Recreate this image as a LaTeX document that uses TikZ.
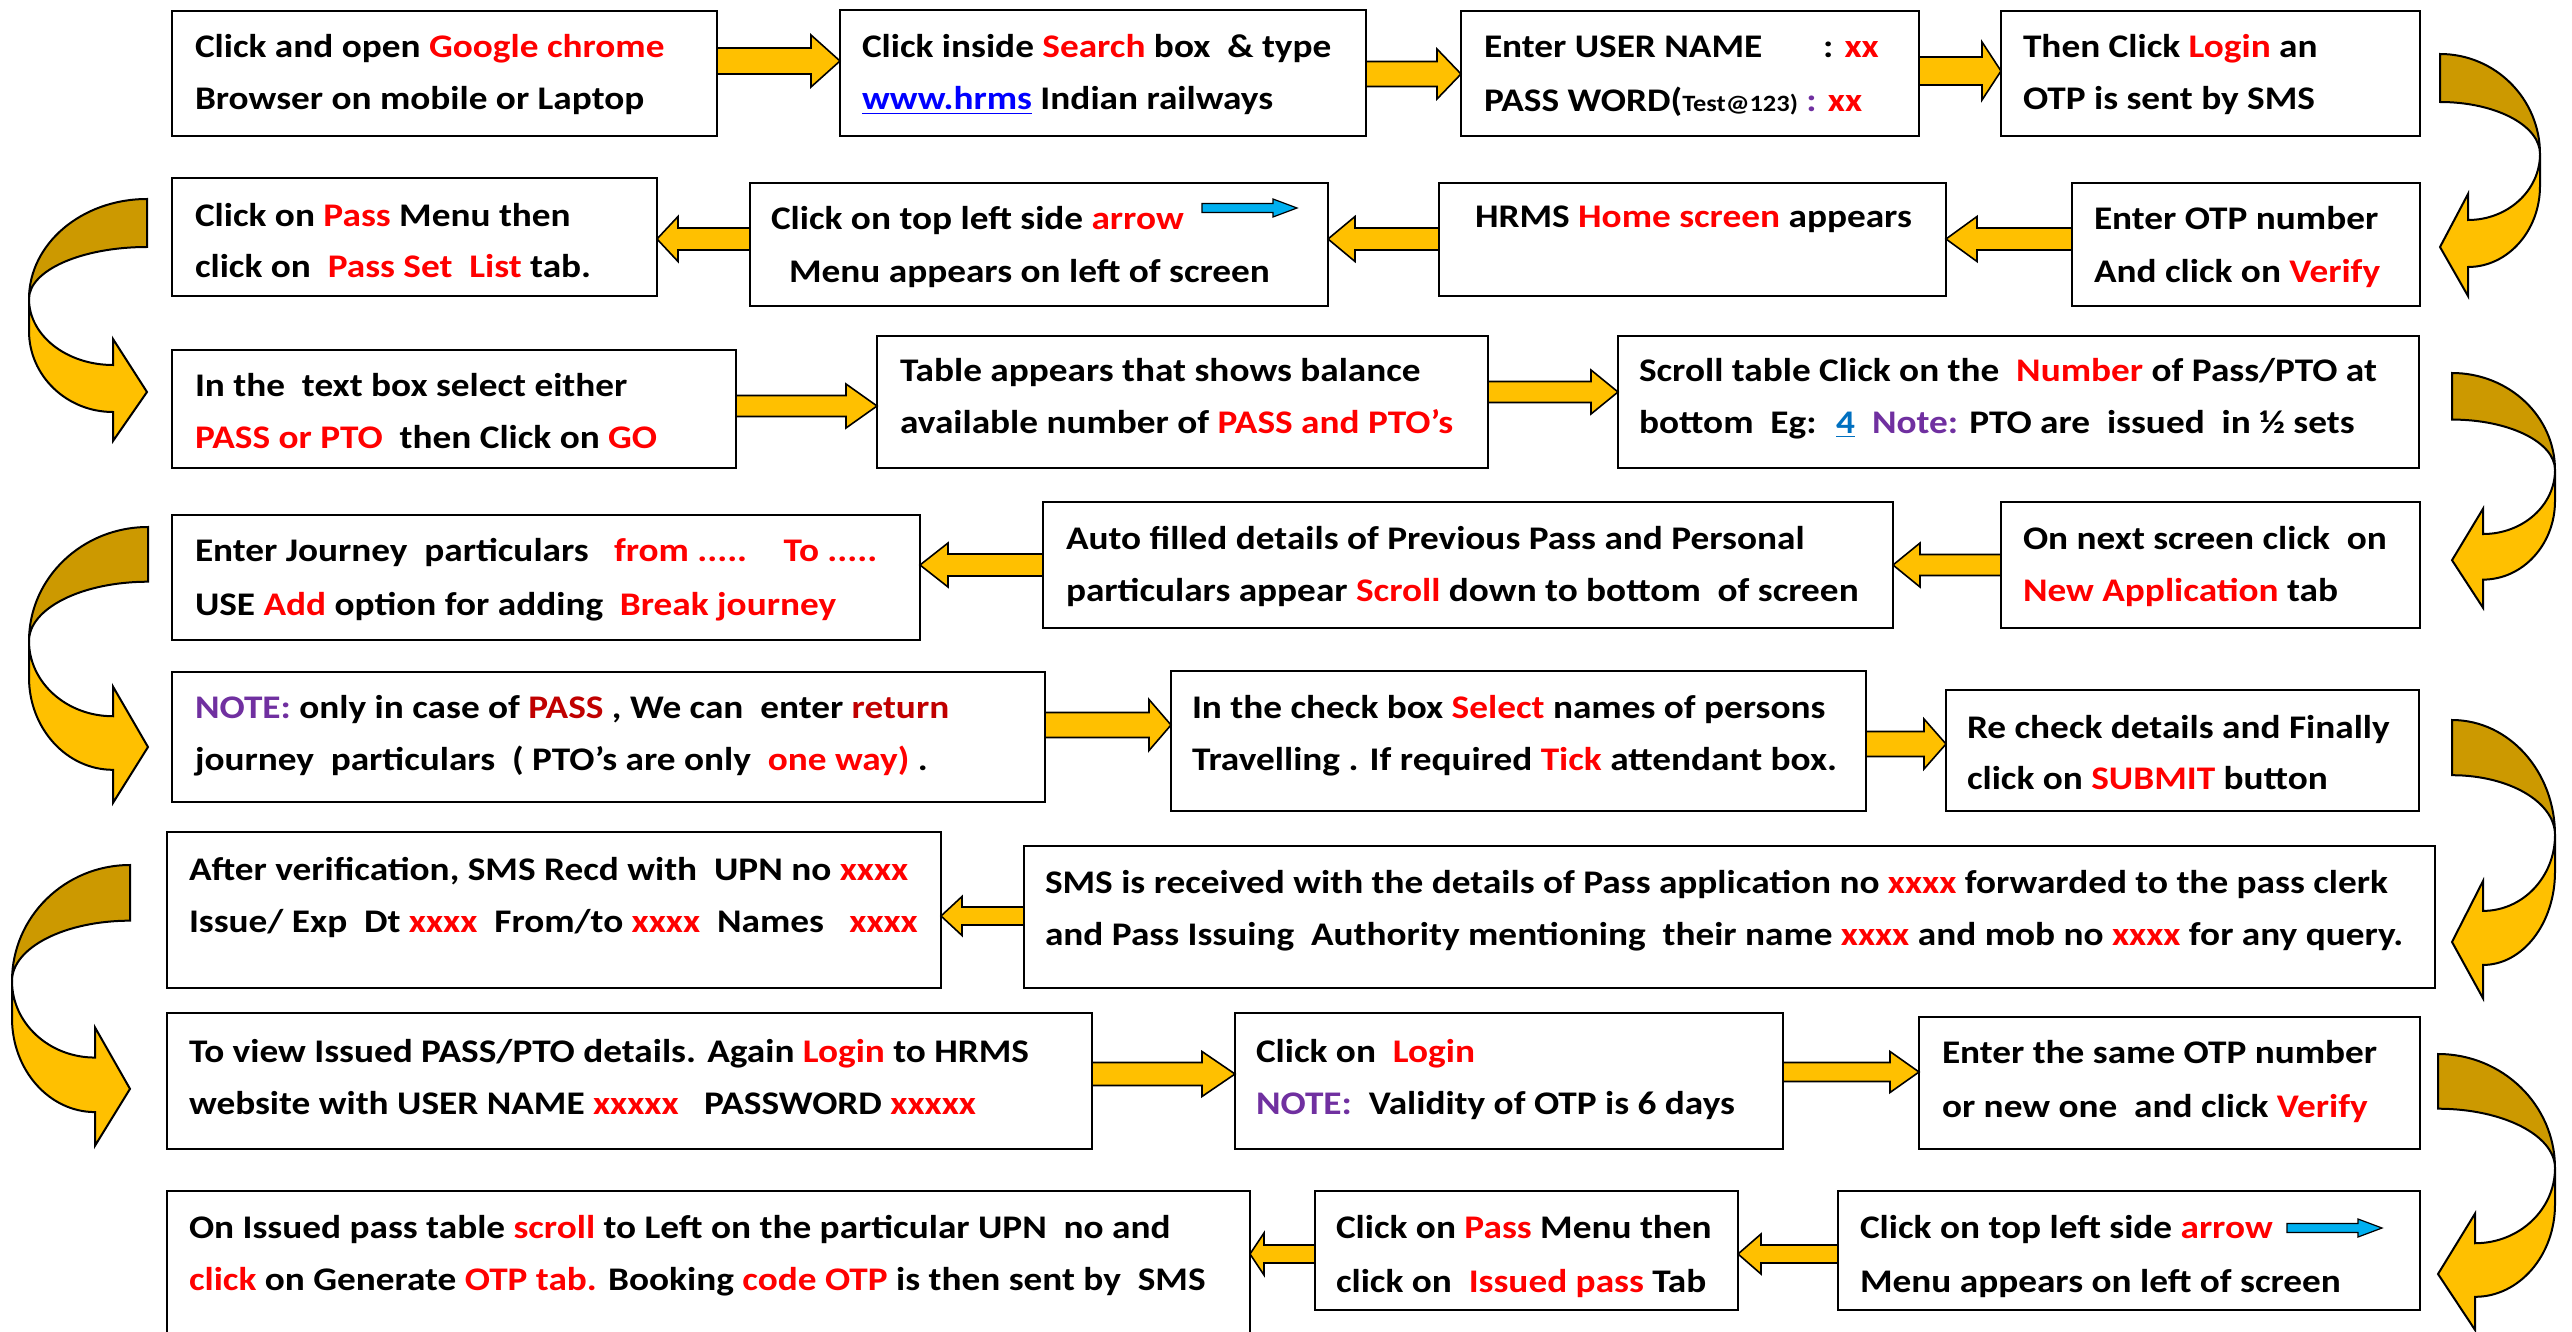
\documentclass[tikz,border=0pt]{standalone}
\usepackage{fontspec}
\usepackage{graphicx}
\setmainfont{Carlito}
\usetikzlibrary{calc}
\definecolor{myred}{HTML}{FF0000}
\definecolor{mydred}{HTML}{C00000}
\definecolor{mypurple}{HTML}{7030A0}
\definecolor{linkblue}{HTML}{0000FF}
\definecolor{numblue}{HTML}{0070C0}
\definecolor{gold}{HTML}{FFC000}
\definecolor{darkgold}{HTML}{CC9900}
\definecolor{skyblue}{HTML}{00B0F0}
\newcommand\rd[1]{\textcolor{myred}{#1}}
\newcommand\drd[1]{\textcolor{mydred}{#1}}
\newcommand\pur[1]{\textcolor{mypurple}{#1}}
\newcommand\mainsize{\fontsize{16.5}{16.5}\selectfont}
\newcommand\stretchtext[1]{\scalebox{1.13}[1]{#1}}
\tikzset{
  stepbox/.style={draw=black, line width=1.4pt, inner sep=0pt, outer sep=0pt, fill=white},
  txt/.style={anchor=base west, inner sep=0pt, outer sep=0pt, font=\bfseries\mainsize},
  barrow/.style={fill=gold, draw=black, line width=0.8pt, line join=miter},
  carrowdark/.style={fill=darkgold, draw=black, line width=1pt, line join=miter},
  carrowlight/.style={fill=gold, draw=black, line width=1pt, line join=miter},
  bluearrow/.style={fill=skyblue, draw=black, line width=0.6pt}
}
% box: name, x1, y1, x2, y2 (pixels, y downwards)
\newcommand\StepBox[5]{%
  \node[stepbox, minimum width={(#4-#2)*0.5pt}, minimum height={(#5-#3)*0.5pt}]
    (#1) at ({(#2+#4)/2},{(#3+#5)/2}) {};}
% text line: name, x, baseline y, text
\newcommand\TL[4]{\node[txt] (#1) at (#2,#3) {\stretchtext{#4}};}
% block arrow: from anchor, to anchor, y centre, shaft half, head half, head length
\newcommand\BArrow[6]{%
  \pgfmathsetmacro\hlpt{#6/2}%
  \coordinate (ba-y) at (0,#3);
  \coordinate (ba-s) at (#1 |- ba-y);
  \coordinate (ba-t) at (#2 |- ba-y);
  \coordinate (ba-h) at ($(ba-t)!\hlpt pt!(ba-s)$);
  \filldraw[barrow] ($(ba-s)+(0,-#4)$) -- ($(ba-h)+(0,-#4)$) -- ($(ba-h)+(0,-#5)$)
    -- (ba-t) -- ($(ba-h)+(0,#5)$) -- ($(ba-h)+(0,#4)$) -- ($(ba-s)+(0,#4)$) -- cycle;}
% curved arrow: xl, y0, dir, W, hb, vs
\newcommand\CurvArrow[6]{%
  \pgfmathsetmacro\cvT{48*#6}%
  \pgfmathsetmacro\cvP{100*#6}%
  \pgfmathsetmacro\cvQ{132*#6}%
  \pgfmathsetmacro\cvUJ{166*#6}%
  \pgfmathsetmacro\cvLJ{213*#6}%
  \pgfmathsetmacro\cvWT{140*#6}%
  \pgfmathsetmacro\cvTP{193*#6}%
  \pgfmathsetmacro\cvWB{242*#6}%
  \pgfmathsetmacro\cxR{#1+#3*#4}%
  \pgfmathsetmacro\cxH{#1+#3*#5}%
  \pgfmathsetmacro\rOx{#4/2}%
  \pgfmathsetmacro\rOy{\cvP/2}%
  \pgfmathsetmacro\rIy{(\cvP-\cvT)/2}%
  \pgfmathsetmacro\rLx{(#4-#5)/2}%
  \pgfmathsetmacro\rLy{(\cvLJ-\cvQ)/2}%
  \pgfmathsetmacro\rUy{(\cvUJ-\cvP)/2}%
  \pgfmathsetmacro\aS{#3>0?0:180}%
  \pgfmathsetmacro\aB{#3>0?-90:270}%
  \filldraw[carrowdark] (#1,#2)
    arc[start angle=90, end angle=\aS, x radius=\rOx pt, y radius=\rOy pt]
    arc[start angle=\aS, end angle=90, x radius=\rOx pt, y radius=\rIy pt] -- cycle;
  \filldraw[carrowlight] (\cxR,#2+\cvP) -- (\cxR,#2+\cvQ)
    arc[start angle=\aS, end angle=\aB, x radius=\rLx pt, y radius=\rLy pt]
    -- (\cxH,#2+\cvWB) -- (#1,#2+\cvTP) -- (\cxH,#2+\cvWT) -- (\cxH,#2+\cvUJ)
    arc[start angle=\aB, end angle=\aS, x radius=\rLx pt, y radius=\rUy pt] -- cycle;}
\newcommand\BlueArr[2]{%
  \filldraw[bluearrow] (#1,#2-4.5) -- (#1+71,#2-4.5) -- (#1+71,#2-9) -- (#1+95,#2)
    -- (#1+71,#2+9) -- (#1+71,#2+4.5) -- (#1,#2+4.5) -- cycle;}
\begin{document}
\begin{tikzpicture}[x=0.5pt,y=-0.5pt]
\useasboundingbox (0,0) rectangle (2572,1332);
\clip (0,0) rectangle (2572,1332);
\fill[white] (0,0) rectangle (2572,1332);

% ---------- boxes ----------
\StepBox{b1}{172}{11}{717}{136}
\StepBox{b2}{840}{10}{1366}{136}
\StepBox{b3}{1461}{11}{1919}{136}
\StepBox{b4}{2001}{11}{2420}{136}
\StepBox{b5}{172}{178}{657}{296}
\StepBox{b6}{750}{183}{1328}{306}
\StepBox{b7}{1439}{183}{1946}{296}
\StepBox{b8}{2072}{183}{2420}{306}
\StepBox{b9}{172}{350}{736}{468}
\StepBox{b10}{877}{336}{1488}{468}
\StepBox{b11}{1618}{336}{2419}{468}
\StepBox{b12}{172}{515}{920}{640}
\StepBox{b13}{1043}{502}{1893}{628}
\StepBox{b14}{2001}{502}{2420}{628}
\StepBox{b15}{172}{672}{1045}{802}
\StepBox{b16}{1171}{671}{1866}{811}
\StepBox{b17}{1946}{690}{2419}{811}
\StepBox{b18}{167}{832}{941}{988}
\StepBox{b19}{1024}{846}{2435}{988}
\StepBox{b20}{167}{1013}{1092}{1149}
\StepBox{b21}{1235}{1013}{1783}{1149}
\StepBox{b22}{1919}{1017}{2420}{1149}
\StepBox{b23}{167}{1191}{1250}{1350}
\StepBox{b24}{1315}{1191}{1738}{1310}
\StepBox{b25}{1838}{1191}{2420}{1310}

% ---------- texts ----------
\TL{b1a}{195}{58}{Click and open \rd{Google chrome}}
\TL{b1b}{195}{110}{Browser on mobile or Laptop}
\TL{b2a}{862}{58}{Click inside \rd{Search} box \ \& type}
\TL{b2b}{862}{110}{{\color{linkblue}\underline{www.hrms}} Indian railways}
\TL{b3a}{1484}{58}{Enter USER NAME}
\TL{b3c}{1823}{58}{: \rd{xx}}
\TL{b3b}{1484}{112}{PASS WORD({\fontsize{11.7}{12}\selectfont Test@123)} \pur{:} \rd{xx}}
\TL{b4a}{2023}{58}{Then Click \rd{Login} an}
\TL{b4b}{2023}{110}{OTP is sent by SMS}
\TL{b5a}{195}{227}{Click on \rd{Pass} Menu then}
\TL{b5b}{195}{278}{click on \ \rd{Pass Set \ List} tab.}
\TL{b6a}{771}{230}{Click on top left side \rd{arrow}}
\TL{b6b}{789}{283}{Menu appears on left of screen}
\TL{b7a}{1475}{228}{HRMS \rd{Home screen} appears}
\TL{b8a}{2094}{230}{Enter OTP number}
\TL{b8b}{2094}{283}{And click on \rd{Verify}}
\TL{b9a}{195}{397}{In the \ text box select either}
\TL{b9b}{195}{448}{\rd{PASS or PTO} \ then Click on \rd{GO}}
\TL{b10a}{900}{382}{Table appears that shows balance}
\TL{b10b}{900}{433}{available number of \rd{PASS and PTO’s}}
\TL{b11a}{1639}{382}{Scroll table Click on the \ \rd{Number} of Pass/PTO at}
\TL{b11b}{1639}{434}{bottom \ Eg: \ {\color{numblue}\underline{4}} \ \pur{Note:} PTO are \ issued \ in ½ sets}
\TL{b12a}{195}{561}{Enter Journey \ particulars \ \ \rd{from ..... \ \ \ To .....}}
\TL{b12b}{195}{615}{USE \rd{Add} option for adding \ \rd{Break journey}}
\TL{b13a}{1066}{549}{Auto filled details of Previous Pass and Personal}
\TL{b13b}{1066}{601}{particulars appear \rd{Scroll} down to bottom \ of screen}
\TL{b14a}{2023}{549}{On next screen click \ on}
\TL{b14b}{2023}{601}{\rd{New Application} tab}
\TL{b15a}{195}{718}{\pur{NOTE:} only in case of \drd{PASS} , We can \ enter \drd{return}}
\TL{b15b}{195}{770}{journey \ particulars \ ( PTO’s are only \ \rd{one way)} .}
\TL{b16a}{1192}{718}{In the check box \rd{Select} names of persons}
\TL{b16b}{1192}{770}{Travelling . If required \rd{Tick} attendant box.}
\TL{b17a}{1967}{738}{Re check details and Finally}
\TL{b17b}{1967}{789}{click on \rd{SUBMIT} button}
\TL{b18a}{189}{880}{After verification, SMS Recd with \ UPN no \rd{xxxx}}
\TL{b18b}{189}{932}{Issue/ Exp \ Dt \rd{xxxx} \ From/to \rd{xxxx} \ Names \ \ \rd{xxxx}}
\TL{b19a}{1045}{893}{SMS is received with the details of Pass application no \rd{xxxx} forwarded to the pass clerk}
\TL{b19b}{1045}{945}{and Pass Issuing \ Authority mentioning \ their name \rd{xxxx} and mob no \rd{xxxx} for any query.}
\TL{b20a}{189}{1062}{To view Issued PASS/PTO details. Again \rd{Login} to HRMS}
\TL{b20b}{189}{1114}{website with USER NAME \rd{xxxxx} \ \ PASSWORD \rd{xxxxx}}
\TL{b21a}{1256}{1062}{Click on \ \rd{Login}}
\TL{b21b}{1256}{1114}{\pur{NOTE:} \ Validity of OTP is 6 days}
\TL{b22a}{1942}{1063}{Enter the same OTP number}
\TL{b22b}{1942}{1117}{or new one \ and click \rd{Verify}}
\TL{b23a}{189}{1238}{On Issued pass table \rd{scroll} to Left on the particular UPN \ no and}
\TL{b23b}{189}{1290}{\rd{click} on Generate \rd{OTP tab.} Booking \rd{code OTP} is then sent by \ SMS}
\TL{b24a}{1336}{1238}{Click on \rd{Pass} Menu then}
\TL{b24b}{1336}{1292}{click on \ \rd{Issued pass} Tab}
\TL{b25a}{1860}{1238}{Click on top left side \rd{arrow}}
\TL{b25b}{1860}{1292}{Menu appears on left of screen}

% ---------- blue arrows in text ----------
\BlueArr{1202}{208}
\BlueArr{2287}{1228}

% ---------- straight block arrows ----------
\BArrow{b1.east}{b2.west}{61}{13}{26}{29}
\BArrow{b2.east}{b3.west}{74}{12.5}{25}{24}
\BArrow{b3.east}{b4.west}{71}{14}{29}{19}
\BArrow{b6.west}{b5.east}{239}{11}{22.5}{21}
\BArrow{b7.west}{b6.east}{239}{11}{22.5}{27}
\BArrow{b8.west}{b7.east}{239}{11}{22.5}{31}
\BArrow{b9.east}{b10.west}{406}{10.5}{22}{31}
\BArrow{b10.east}{b11.west}{392}{10.5}{22}{27}
\BArrow{b13.west}{b12.east}{565}{11}{22}{28}
\BArrow{b14.west}{b13.east}{565}{10.5}{22}{27}
\BArrow{b15.east}{b16.west}{725}{12.5}{25.5}{22}
\BArrow{b16.east}{b17.west}{744}{12.5}{25}{22}
\BArrow{b19.west}{b18.east}{916}{9}{19.5}{21}
\BArrow{b20.east}{b21.west}{1074}{11.5}{22.5}{33}
\BArrow{b21.east}{b22.west}{1072}{9.5}{20.5}{29}
\BArrow{b24.west}{b23.east}{1254}{9}{21}{14}
\BArrow{b25.west}{b24.east}{1254}{9}{20}{23}

% ---------- curved arrows ----------
\CurvArrow{2440}{54}{1}{100}{28}{1}
\CurvArrow{147}{199}{-1}{118}{34}{1}
\CurvArrow{2452}{373}{1}{103}{31}{0.97}
\CurvArrow{148}{527}{-1}{119}{35}{1.14}
\CurvArrow{2452}{720}{1}{103}{31}{1.15}
\CurvArrow{130}{865}{-1}{118}{35}{1.16}
\CurvArrow{2438}{1054}{1}{117}{37}{1.14}
\end{tikzpicture}
\end{document}
